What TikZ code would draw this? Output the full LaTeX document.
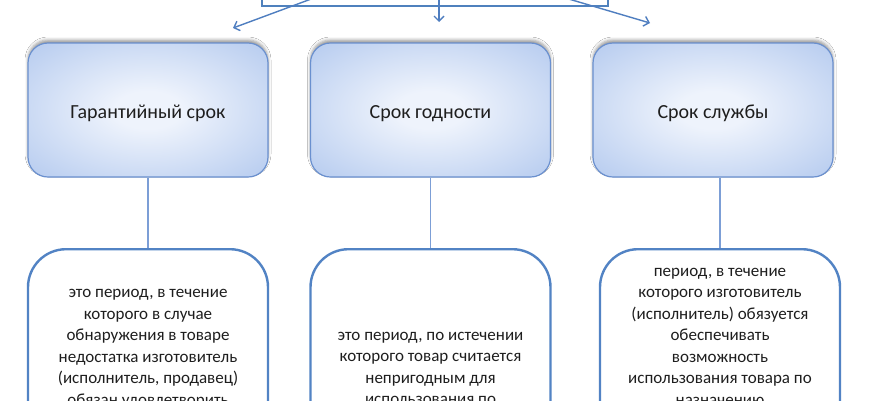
\documentclass[tikz,border=0pt]{standalone}
\usepackage{fontspec}
\setmainfont{Carlito}
\usetikzlibrary{arrows.meta,shadows.blur,calc}
\definecolor{shIn}{HTML}{EEF3FC}
\definecolor{shOut}{HTML}{A9C2EC}
\definecolor{shDeep}{HTML}{86A8DF}
\definecolor{frameblue}{HTML}{4F81BD}
\definecolor{arrowblue}{HTML}{4F7EC0}
\definecolor{edgeblue}{HTML}{6A90CF}
\definecolor{linkblue}{HTML}{7C9ED6}
\definecolor{botblue}{HTML}{5283C4}
\definecolor{txt}{HTML}{1E1E1E}
\pgfdeclareradialshading{boxshade}{\pgfpoint{0bp}{0bp}}{color(0bp)=(shIn); color(7bp)=(shIn); color(42bp)=(shOut); color(71bp)=(shDeep)}
\tikzset{
  headbox/.style={draw=edgeblue, line width=1.2pt, rounded corners=20pt,
    shade, shading=boxshade, minimum width=240pt, minimum height=134pt,
    inner sep=0pt, text height=16pt, text depth=0pt, text=txt,
    font=\fontsize{20}{24}\selectfont,
    blur shadow={shadow xshift=0pt, shadow yshift=3pt, shadow blur radius=3pt, shadow opacity=40}},
  bodybox/.style={draw=botblue, line width=2.4pt, rounded corners=38pt, fill=white,
    minimum width=240pt, minimum height=260pt, inner sep=0pt, anchor=north},
  bodytext/.style={align=center, inner sep=0pt, anchor=north, text=txt,
    font=\fontsize{17}{21.5}\selectfont},
  topframe/.style={draw=frameblue, line width=2pt, minimum width=346pt, minimum height=80pt, inner sep=0pt, anchor=south},
  fanarrow/.style={draw=arrowblue, line width=1.4pt, -{Straight Barb[length=5pt,width=10pt,line width=1.4pt]}},
  link/.style={draw=linkblue, line width=1.2pt}
}
\begin{document}
\begin{tikzpicture}[x=1pt,y=-1pt]
\useasboundingbox (0,0) rectangle (870,400);
\clip (0,0) rectangle (870,400);
\fill[white] (0,0) rectangle (870,400);
% top frame (mostly out of view)
\node[topframe] (top) at (435,7) {};
% heads
\node[headbox] (h1) at (148,110) {Гарантийный срок};
\node[headbox] (h2) at (430.5,110) {Срок годности};
\node[headbox] (h3) at (713,110) {Срок службы};
% bodies
\node[bodybox] (b1) at (148,248) {};
\node[bodybox] (b2) at (430.5,248) {};
\node[bodybox] (b3) at (720,248) {};
\node[bodytext] (t1) at (148,283.5) {\rule{0pt}{14pt}это период, в течение\\которого в случае\\обнаружения в товаре\\недостатка изготовитель\\(исполнитель, продавец)\\обязан удовлетворить};
\node[bodytext] (t2) at (430.5,326) {\rule{0pt}{14pt}это период, по истечении\\которого товар считается\\непригодным для\\использования по};
\node[bodytext] (t3) at (720,262) {\rule{0pt}{14pt}период, в течение\\которого изготовитель\\(исполнитель) обязуется\\обеспечивать\\возможность\\использования товара по\\назначению};
% fan arrows from the top frame
\coordinate (s1) at (330,-8);
\coordinate (s2) at (439,-8);
\coordinate (s3) at (545,-8);
\coordinate (e1) at (233,28);
\coordinate (e2) at (439,22);
\coordinate (e3) at (650,23);
\draw[fanarrow] (s1) -- (e1);
\draw[fanarrow] (s2) -- (e2);
\draw[fanarrow] (s3) -- (e3);
% links
\draw[link] (h1.south) -- (b1.north);
\draw[link] (h2.south) -- (b2.north);
\draw[link] (h3.south -| b3.north) -- (b3.north);
\end{tikzpicture}
\end{document}
